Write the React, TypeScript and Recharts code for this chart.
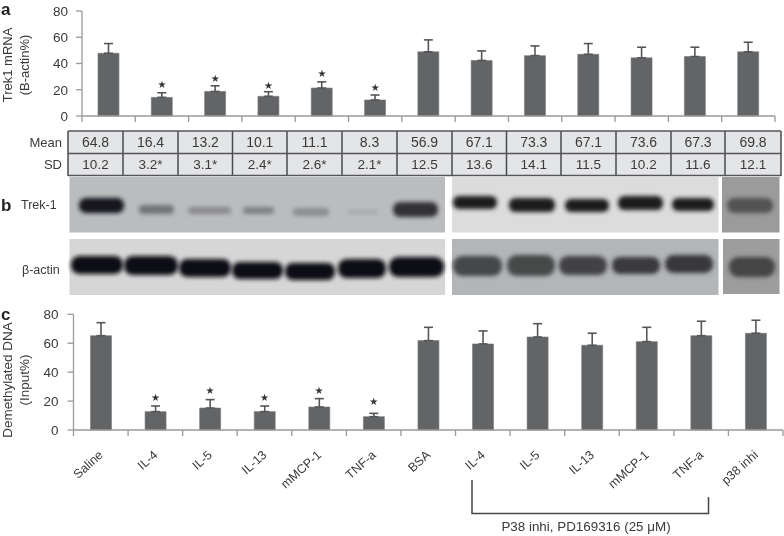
import React from "react";
import { ComposedChart, Bar, Line, XAxis, YAxis, ErrorBar, LabelList } from "recharts";

const categories = ["Saline", "IL-4", "IL-5", "IL-13", "mMCP-1", "TNF-a", "BSA", "IL-4", "IL-5", "IL-13", "mMCP-1", "TNF-a", "p38 inhi"];
const aValues = [47.8, 14.2, 18.7, 15, 21.3, 12.2, 48.9, 42.3, 46, 47, 44.3, 45.3, 48.9];
const aErrors = [7.4, 3.5, 4.3, 3.5, 4.7, 3.8, 9.1, 7.3, 7.4, 8.2, 8.1, 7.1, 7.3];
const aStars = [null, 23.8, 28.4, 23.3, 32.2, 22, null, null, null, null, null, null, null];
const cValues = [65.2, 12.7, 15.2, 12.7, 15.9, 9.2, 61.8, 59.5, 64.3, 58.6, 61.1, 65.2, 66.9];
const cErrors = [9, 3.9, 5.8, 3.9, 5.8, 2.3, 9.2, 9, 9.2, 8.3, 9.9, 10, 9];
const cStars = [null, 22.6, 27.4, 22.6, 27.4, 19.4, null, null, null, null, null, null, null];
const yTicks = [0, 20, 40, 60, 80];
const meanRow = ["64.8", "16.4", "13.2", "10.1", "11.1", "8.3", "56.9", "67.1", "73.3", "67.1", "73.6", "67.3", "69.8"];
const sdRow = ["10.2", "3.2*", "3.1*", "2.4*", "2.6*", "2.1*", "12.5", "13.6", "14.1", "11.5", "10.2", "11.6", "12.1"];

const FONT = '"Liberation Sans", Arial, sans-serif';
const BAR = "#636466";
const AXIS = "#9a9a9a";
const INK = "#3a3a3a";

const build = (vals: number[], errs: number[], stars: (number | null)[]) =>
  categories.map((name, i) => ({ name, key: i, value: vals[i], err: [0, errs[i]], star: stars[i] }));

const BoundaryTick = (props: any) => {
  const { x, y, band, labels, index } = props;
  const left = x - band / 2;
  const right = x + band / 2;
  return (
    <g>
      <line x1={left} x2={left} y1={y - 8} y2={y - 2} stroke={AXIS} strokeWidth={1.3} />
      {index === categories.length - 1 && <line x1={right} x2={right} y1={y - 8} y2={y - 2} stroke={AXIS} strokeWidth={1.3} />}
      {labels && (
        <text
          x={x + 3}
          y={y + 18}
          fontFamily={FONT}
          fontSize={12.5}
          fill={INK}
          textAnchor="end"
          transform={`rotate(-42 ${x + 3} ${y + 18})`}
        >
          {categories[index]}
        </text>
      )}
    </g>
  );
};

const StarLabel = (props: any) => {
  const { x, y, value } = props;
  if (value == null) return null;
  return (
    <text x={x} y={y} dy={3.5} textAnchor="middle" fontFamily="DejaVu Sans" fontSize={10} fill="#333">
      ★
    </text>
  );
};

const Panel = ({ data, top, height, left, right, plotTop, axisH, labels }: any) => {
  const band = (784 - left - right) / categories.length;
  return (
    <div style={{ position: "absolute", left: 0, top }}>
      <ComposedChart width={784} height={height} data={data} margin={{ top: plotTop, right, bottom: 0, left: 0 }}>
        <XAxis
          dataKey="key"
          height={axisH}
          interval={0}
          tickLine={false}
          stroke={AXIS}
          strokeWidth={1.5}
          tick={<BoundaryTick band={band} labels={labels} />}
        />
        <YAxis
          width={left}
          domain={[0, 80]}
          ticks={yTicks}
          interval={0}
          stroke={AXIS}
          strokeWidth={1.3}
          tickSize={6}
          tickMargin={labels ? 9 : 8}
          tick={{ fontFamily: FONT, fontSize: 13.5, fill: INK }}
        />
        <Bar dataKey="value" barSize={21} fill={BAR} stroke="#77787a" strokeWidth={0.6} isAnimationActive={false}>
          <ErrorBar dataKey="err" direction="y" width={4.5} stroke="#55565a" strokeWidth={1.6} isAnimationActive={false} />
        </Bar>
        <Line dataKey="star" stroke="none" dot={false} activeDot={false} connectNulls={false} isAnimationActive={false}>
          <LabelList dataKey="star" content={<StarLabel />} />
        </Line>
      </ComposedChart>
    </div>
  );
};

const tableEdges = [68, 123, 178, 232.5, 287, 342, 397, 452, 506.5, 561, 616, 671, 725, 781];

const Table = () => (
  <>
    <div style={{ position: "absolute", left: 68, top: 131, width: 713, height: 45, background: "#e4e5e6" }} />
    <svg width={784} height={180} style={{ position: "absolute", left: 0, top: 0 }}>
      {tableEdges.map((x, i) => (
        <line key={i} x1={x} x2={x} y1={131} y2={176} stroke="#4a4b4d" strokeWidth={1.5} />
      ))}
      {[131, 153.5, 175.5].map((y) => (
        <line key={y} x1={68} x2={781} y1={y} y2={y} stroke="#55565a" strokeWidth={1.5} />
      ))}
      <text x={62} y={147} textAnchor="end" fontFamily={FONT} fontSize={13} fill={INK}>Mean</text>
      <text x={62} y={169} textAnchor="end" fontFamily={FONT} fontSize={13} fill={INK}>SD</text>
      {meanRow.map((t, i) => (
        <text key={i} x={(tableEdges[i] + tableEdges[i + 1]) / 2} y={147} textAnchor="middle" fontFamily={FONT} fontSize={14} fill={INK}>{t}</text>
      ))}
      {sdRow.map((t, i) => (
        <text key={i} x={(tableEdges[i] + tableEdges[i + 1]) / 2} y={169} textAnchor="middle" fontFamily={FONT} fontSize={13.5} fill={INK}>{t}</text>
      ))}
    </svg>
  </>
);

// Western blot panels: [x, y, w, h, fill]
const blotPanels: [number, number, number, number, string][] = [
  [69.5, 177, 375.5, 55.5, "#babcbe"],
  [452, 177, 266.5, 55.5, "#dcdcdd"],
  [722, 177, 57.5, 55.5, "#9b9b9c"],
  [69.5, 239, 375.5, 56, "#d6d6d7"],
  [452, 239, 266.5, 56, "#b3b5b7"],
  [723, 239, 56.5, 55, "#9d9d9e"],
];
// Bands: [x, y, w, h, fill]
const blotBands: [number, number, number, number, string][] = [
  [79, 198, 45, 15, "#19191a"], [139, 205, 35, 9, "#737476"], [188, 207, 43, 7, "#898a8c"],
  [243, 207, 31, 7, "#7f8082"], [293, 208, 36, 8, "#8c8d8f"], [347, 210, 31, 4, "#a6a7a9"],
  [393, 202, 45, 15, "#333334"],
  [453, 196, 44, 13, "#1a1a1b"], [509, 198, 46, 14, "#1a1a1b"], [565, 199, 44, 13, "#1a1a1b"],
  [618, 196, 45, 14, "#1a1a1b"], [672, 198, 42, 13, "#1a1a1b"], [727, 198, 46, 15, "#525253"],
  [71, 256, 52, 18, "#111112"], [124, 256, 54, 19, "#111112"], [179, 259, 52, 18, "#111112"],
  [232, 262, 51, 17, "#111112"], [285, 263, 50, 17, "#111112"], [338, 259, 48, 19, "#111112"],
  [389, 257, 55, 20, "#111112"],
  [453, 256, 49, 20, "#454648"], [507, 255, 48, 21, "#47484a"], [559, 256, 48, 19, "#424345"],
  [612, 257, 48, 17, "#3a3b3d"], [665, 255, 48, 18, "#38393b"], [729, 257, 46, 20, "#444445"],
];

const Blots = () => (
  <svg width={784} height={536} style={{ position: "absolute", left: 0, top: 0 }}>
    <defs>
      <filter id="soft" x="-30%" y="-60%" width="160%" height="220%">
        <feGaussianBlur stdDeviation="1.9" />
      </filter>
    </defs>
    {blotPanels.map((p, i) => (
      <rect key={i} x={p[0]} y={p[1]} width={p[2]} height={p[3]} fill={p[4]} />
    ))}
    {blotBands.map((b, i) => (
      <rect key={i} x={b[0]} y={b[1]} width={b[2]} height={b[3]} rx={b[3] / 2.2} fill={b[4]} filter="url(#soft)" />
    ))}
  </svg>
);

const Notes = () => (
  <svg width={784} height={536} style={{ position: "absolute", left: 0, top: 0 }} fontFamily={FONT}>
    <text x={1} y={15} fontSize={17} fontWeight="bold" fill="#222">a</text>
    <text x={1} y={211} fontSize={17} fontWeight="bold" fill="#222">b</text>
    <text x={1} y={320} fontSize={17} fontWeight="bold" fill="#222">c</text>
    <text x={21} y={209} fontSize={12.5} fill={INK}>Trek-1</text>
    <text x={22} y={274} fontSize={12.5} fill={INK}>β-actin</text>
    <text transform="translate(12,65) rotate(-90)" textAnchor="middle" fontSize={13} fill={INK}>Trek1 mRNA</text>
    <text transform="translate(29,65) rotate(-90)" textAnchor="middle" fontSize={13} fill={INK}>(B-actin%)</text>
    <text transform="translate(12,380) rotate(-90)" textAnchor="middle" fontSize={13.5} fill={INK}>Demethylated DNA</text>
    <text transform="translate(29,380) rotate(-90)" textAnchor="middle" fontSize={13.5} fill={INK}>(Input%)</text>
    <path d="M472 480 V513.5 H708.5 V497" fill="none" stroke="#444" strokeWidth={1.5} />
    <text x={586} y={531} textAnchor="middle" fontSize={13.4} fill={INK}>P38 inhi, PD169316 (25 μM)</text>
  </svg>
);

export default function App() {
  return (
    <div style={{ position: "absolute", left: 0, top: 0, width: 784, height: 536, background: "#fff", overflow: "hidden", filter: "blur(0.35px)" }}>
      <Panel data={build(aValues, aErrors, aStars)} top={0} height={130} left={82} right={9} plotTop={11} axisH={14} labels={false} />
      <Table />
      <Blots />
      <Panel data={build(cValues, cErrors, cStars)} top={300} height={236} left={73.5} right={1} plotTop={14.3} axisH={106} labels={true} />
      <Notes />
    </div>
  );
}
